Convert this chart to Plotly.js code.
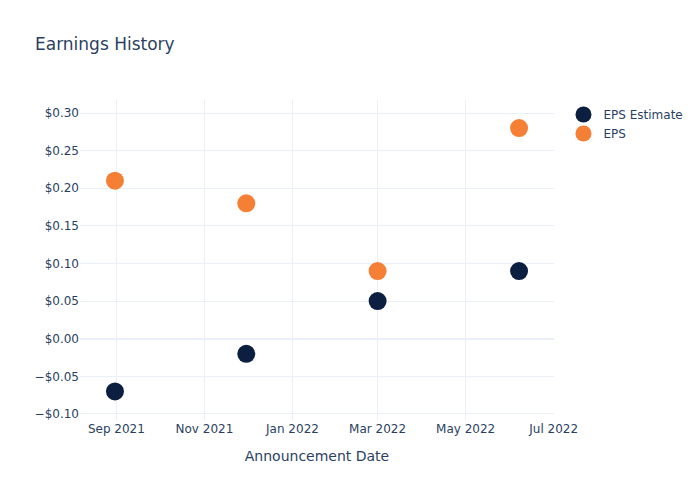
<!DOCTYPE html>
<html>
<head>
<script src="https://cdn.plot.ly/plotly-3.0.1.min.js"></script>
<style>body{margin:0;}#chart{width:700px;height:500px;}</style>
</head>
<body>
<div id="chart"></div>
<script>
const dates = ["2021-08-31", "2021-11-30", "2022-03-01", "2022-06-07"];
const epsEstimate = [-0.07, -0.02, 0.05, 0.09];
const epsActual = [0.21, 0.18, 0.09, 0.28];

const traces = [
  {x: dates, y: epsEstimate, name: "EPS Estimate", mode: "markers", type: "scatter",
   marker: {size: 18, color: "#0c1f40"}},
  {x: dates, y: epsActual, name: "EPS", mode: "markers", type: "scatter",
   marker: {size: 18, color: "#f47f35"}}
];

const layout = {
  width: 700, height: 500,
  title: {text: "Earnings History", font: {size: 17, color: "#2a3f5f"}, x: 0.05},
  font: {family: "'DejaVu Sans', verdana, arial, sans-serif", size: 12, color: "#2a3f5f"},
  paper_bgcolor: "white", plot_bgcolor: "white",
  xaxis: {title: {text: "Announcement Date", font: {size: 14}, standoff: 16}, gridcolor: "#EBF0F8", zerolinecolor: "#EBF0F8", tickformat: "%b %Y", dtick: "M2"},
  yaxis: {tickformat: "$.2f", gridcolor: "#EBF0F8", zerolinecolor: "#EBF0F8", zerolinewidth: 2, dtick: 0.05, range: [-0.108, 0.3173]},
  legend: {font: {size: 12}},
  hovermode: "closest"
};

Plotly.newPlot("chart", traces, layout, {displayModeBar: false});
</script>
</body>
</html>
